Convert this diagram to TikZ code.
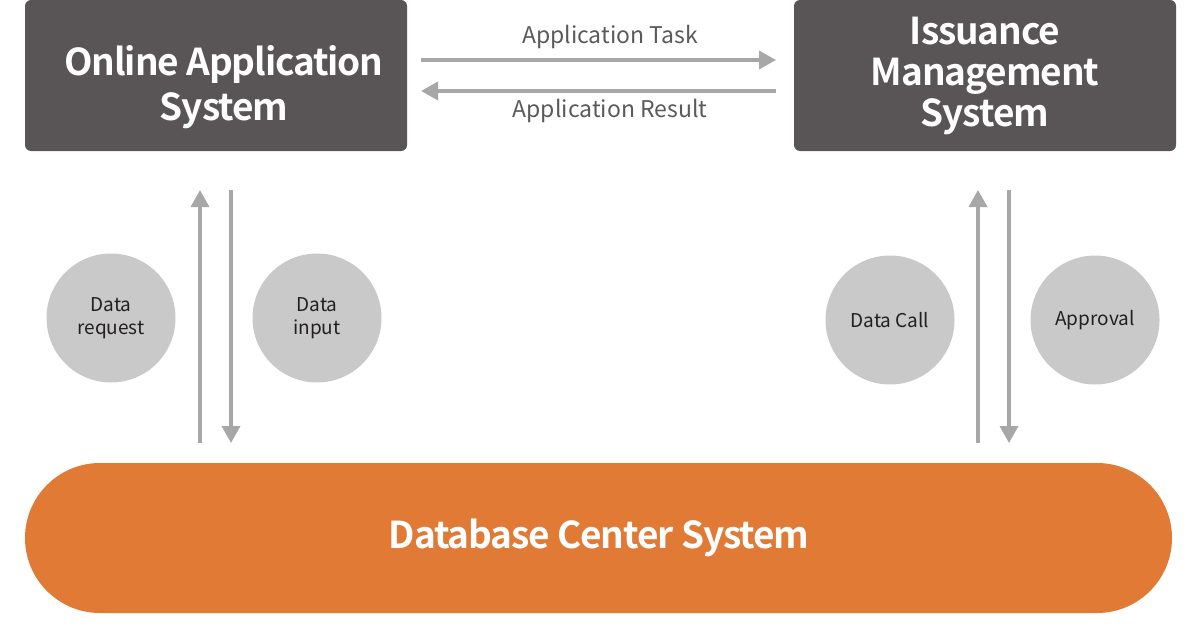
\documentclass[tikz,border=0pt]{standalone}
\usepackage{fontspec}
\setmainfont{Noto Sans CJK KR}
\newfontfamily\tightbold[LetterSpace=-3]{Noto Sans CJK KR Bold}
\usetikzlibrary{arrows.meta}
\definecolor{boxgray}{HTML}{595556}
\definecolor{arrgray}{HTML}{A7A7A7}
\definecolor{circgray}{HTML}{C9C9C9}
\definecolor{txtdark}{HTML}{231F20}
\definecolor{txtgray}{HTML}{5A5A5A}
\definecolor{dborange}{HTML}{E07A35}
\begin{document}
\begin{tikzpicture}[x=1pt,y=-1pt,
  sysbox/.style={fill=boxgray,rounded corners=6pt},
  systext/.style={text=white,align=center,inner sep=0pt},
  flow/.style={draw=arrgray,line width=3.5pt,-{Triangle[length=17pt,width=18pt]}},
  bubble/.style={circle,fill=circgray,minimum size=129pt,inner sep=0pt,text=txtdark,font=\fontsize{19}{23}\selectfont,align=center},
  flowlabel/.style={text=txtgray,font=\fontsize{23}{27}\selectfont,inner sep=0pt}]
\useasboundingbox (0,0) rectangle (1201,626);
\fill[sysbox] (25,0) rectangle (407,151);
\fill[sysbox] (794,0) rectangle (1176,151);
\node[systext,font=\fontsize{37}{45}\tightbold] (oas) at (224,87.5) {Online Application\\System};
\node[systext,font=\fontsize{37}{41}\tightbold] (ims) at (985,75.5) {Issuance\\Management\\System};
\fill[dborange,rounded corners=75pt] (25,463) rectangle (1172,613);
\node[systext,font=\fontsize{37}{41}\tightbold] (db) at (599,538) {Database Center System};
% horizontal arrows
\coordinate (t1) at (421,60); \coordinate (t2) at (776,60);
\coordinate (r1) at (776,91); \coordinate (r2) at (421,91);
\draw[flow] (t1) -- (t2);
\draw[flow] (r1) -- (r2);
\node[flowlabel] (lt) at (610,37) {Application Task};
\node[flowlabel] (lr) at (610,111) {Application Result};
% vertical arrows left
\coordinate (lu1) at (200,443); \coordinate (lu2) at (200,190);
\coordinate (ld1) at (231,190); \coordinate (ld2) at (231,443);
\draw[flow] (lu1) -- (lu2);
\draw[flow] (ld1) -- (ld2);
% vertical arrows right
\coordinate (ru1) at (978,443); \coordinate (ru2) at (978,190);
\coordinate (rd1) at (1009,190); \coordinate (rd2) at (1009,443);
\draw[flow] (ru1) -- (ru2);
\draw[flow] (rd1) -- (rd2);
% bubbles
\node[bubble] (dreq) at (111,318) {Data\\request};
\node[bubble] (dinp) at (317,318) {Data\\input};
\node[bubble] (dcall) at (890,320) {Data Call};
\node[bubble] (appr) at (1095,320) {Approval};
\end{tikzpicture}
\end{document}
